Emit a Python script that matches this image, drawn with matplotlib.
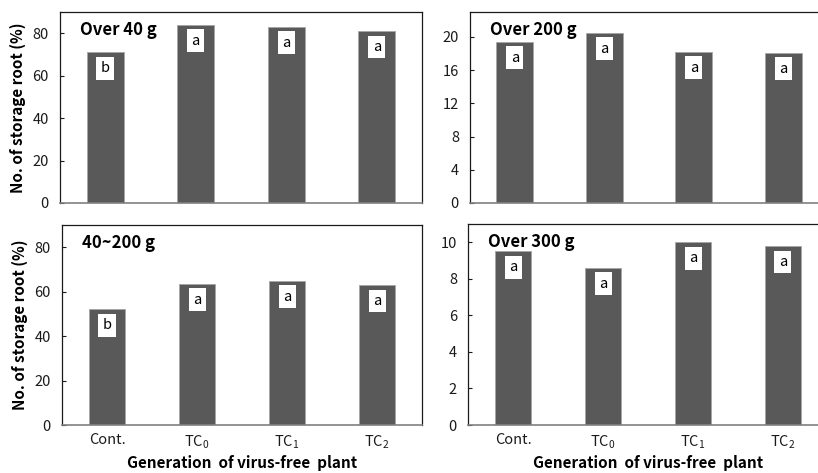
import matplotlib
matplotlib.use('Agg')
import matplotlib.pyplot as plt

plt.rcParams['font.family'] = ['Noto Sans CJK KR', 'DejaVu Sans']
plt.rcParams['mathtext.fontset'] = 'custom'
plt.rcParams['mathtext.rm'] = 'Noto Sans CJK KR'
plt.rcParams['mathtext.it'] = 'Noto Sans CJK KR'

categories = ['Cont.', 'TC$_0$', 'TC$_1$', 'TC$_2$']

over40 = [71, 84, 83, 81]
over40_letters = ['b', 'a', 'a', 'a']
over200 = [19.4, 20.5, 18.2, 18.1]
over200_letters = ['a', 'a', 'a', 'a']
mid40_200 = [52, 63.5, 65, 63]
mid40_200_letters = ['b', 'a', 'a', 'a']
over300 = [9.5, 8.6, 10.0, 9.8]
over300_letters = ['a', 'a', 'a', 'a']

W, H = 818, 473
fig = plt.figure(figsize=(W / 100, H / 100), dpi=100)


def box(l, t, r, b):
    return [l / W, 1 - b / H, (r - l) / W, (b - t) / H]


panels = [
    (box(60, 12, 422, 203), over40, over40_letters, 'Over 40 g', 90, range(0, 81, 20), True, False),
    (box(470, 12, 828, 203), over200, over200_letters, 'Over 200 g', 23, range(0, 21, 4), False, False),
    (box(62, 225, 422, 425), mid40_200, mid40_200_letters, '40~200 g', 90, range(0, 81, 20), True, True),
    (box(468, 224, 828, 425), over300, over300_letters, 'Over 300 g', 11, range(0, 11, 2), False, True),
]

for rect, vals, letters, title, ymax, ticks, ylab, xlab in panels:
    ax = fig.add_axes(rect)
    x = range(len(vals))
    ax.bar(x, vals, width=0.41, color='#595959', edgecolor='#a6a6a6', linewidth=0.6, zorder=2)
    ax.set_xlim(-0.5, 3.5)
    ax.set_ylim(0, ymax)
    ax.set_yticks(list(ticks))
    ax.tick_params(axis='y', direction='in', length=3, labelsize=10.5, colors='#1a1a1a', pad=8)
    ax.tick_params(axis='x', length=0, pad=6)
    for s in ['top', 'right', 'left']:
        ax.spines[s].set_color('#1a1a1a')
        ax.spines[s].set_linewidth(0.9)
    ax.spines['bottom'].set_color('#808080')
    ax.spines['bottom'].set_linewidth(1.2)
    if xlab:
        ax.set_xticks(list(x))
        ax.set_xticklabels(categories, fontsize=10.5, color='#1a1a1a')
        ax.set_xlabel('Generation  of virus-free  plant', fontsize=11, fontweight='bold', va='center')
        ax.xaxis.set_label_coords(0.5, -38 / 200)
    else:
        ax.set_xticks([])
    if ylab:
        ax.set_ylabel('No. of storage root (%)', fontsize=11, fontweight='bold', labelpad=5)
    ax.text(0.055, 0.955, title, transform=ax.transAxes, fontsize=12, fontweight='bold',
            va='top', ha='left')
    for xi, v, lt in zip(x, vals, letters):
        ax.annotate(lt, (xi, v), xytext=(0, -11.5), textcoords='offset points', ha='center',
                    va='center', fontsize=10.5, zorder=3,
                    bbox=dict(boxstyle='square,pad=0.3', fc='white', ec='none'))

fig.savefig('out.png', dpi=100)
